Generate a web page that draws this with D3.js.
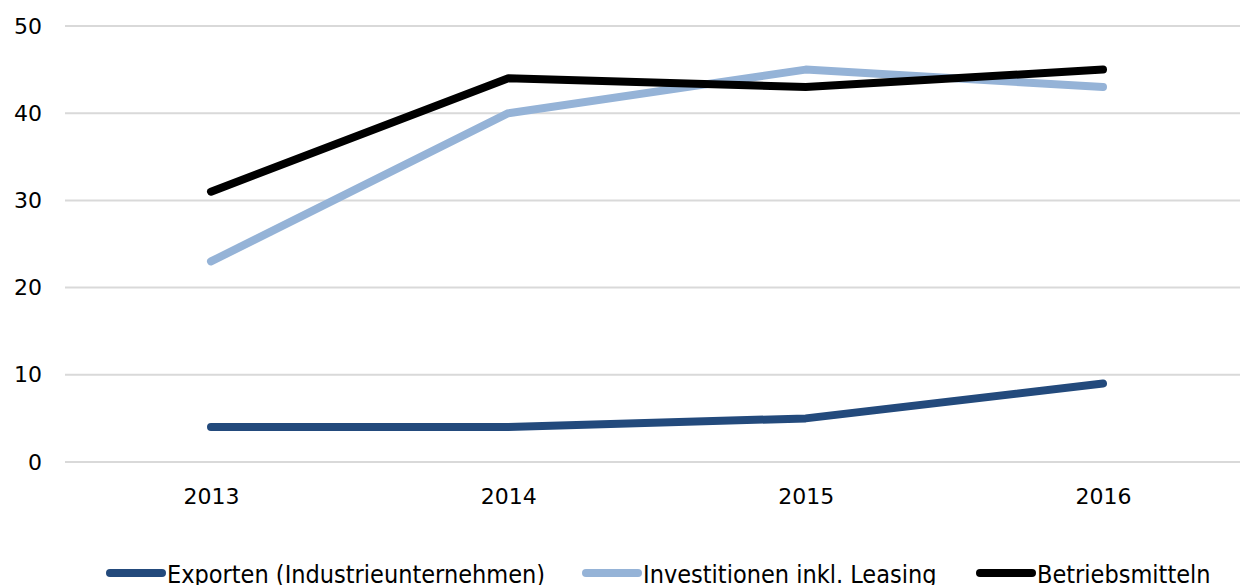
<!DOCTYPE html>
<html lang="en">
<head>
<meta charset="utf-8">
<title>Chart</title>
<script src="https://d3js.org/d3.v7.min.js"></script>
<style>
  body { margin: 0; background: #fff; }
  text { font-family: "DejaVu Sans", sans-serif; fill: #000; }
</style>
</head>
<body>
<script>
// data
var years = ["2013", "2014", "2015", "2016"];
var exporten = [4, 4, 5, 9];
var investitionen = [23, 40, 45, 43];
var betriebsmitteln = [31, 44, 43, 45];
var seriesNames = ["Exporten (Industrieunternehmen)", "Investitionen inkl. Leasing", "Betriebsmitteln"];
var seriesColors = ["#234a7c", "#95b3d7", "#000000"];
var yTicks = [0, 10, 20, 30, 40, 50];

var w = 1240, h = 585;
var margin = {top: 26, right: 0, bottom: 123, left: 62};

var svg = d3.select("body").append("svg")
  .attr("width", w).attr("height", h);

var x = d3.scalePoint()
  .domain(years)
  .range([211, 1103]);

var y = d3.scaleLinear()
  .domain([0, 50])
  .range([462, 26]);

// gridlines
svg.append("g").selectAll("line")
  .data(yTicks)
  .enter().append("line")
  .attr("x1", 65).attr("x2", w)
  .attr("y1", d => y(d)).attr("y2", d => y(d))
  .attr("stroke", "#d9d9d9")
  .attr("stroke-width", 2);

// y axis labels
var yAxis = svg.append("g")
  .attr("transform", "translate(42,0)")
  .call(d3.axisLeft(y).tickValues(yTicks).tickSize(0).tickPadding(0));
yAxis.select(".domain").remove();
yAxis.selectAll("text")
  .style("font-size", "22px")
  .attr("text-anchor", "end");

// x axis labels
var xAxis = svg.append("g")
  .attr("transform", "translate(0,488)")
  .call(d3.axisBottom(x).tickSize(0).tickPadding(0));
xAxis.select(".domain").remove();
xAxis.selectAll("text").style("font-size", "22px");

// lines
var allSeries = [exporten, investitionen, betriebsmitteln];
var line = d3.line()
  .x((d, i) => x(years[i]))
  .y(d => y(d));

svg.append("g").selectAll("path")
  .data(allSeries)
  .enter().append("path")
  .attr("d", d => line(d))
  .attr("fill", "none")
  .attr("stroke", (d, i) => seriesColors[i])
  .attr("stroke-width", 8)
  .attr("stroke-linecap", "round")
  .attr("stroke-linejoin", "round");

// legend
var legendX = [107, 583, 977];
var legend = svg.append("g").selectAll("g")
  .data(seriesNames)
  .enter().append("g")
  .attr("transform", (d, i) => "translate(" + legendX[i] + ",573)");

legend.append("line")
  .attr("x1", 3).attr("x2", 55)
  .attr("y1", 0).attr("y2", 0)
  .attr("stroke", (d, i) => seriesColors[i])
  .attr("stroke-width", 8)
  .attr("stroke-linecap", "round");

legend.append("text")
  .attr("x", 60)
  .attr("y", 10)
  .style("font-family", "'DejaVu Sans Condensed', 'DejaVu Sans', sans-serif")
  .style("font-size", "25px")
  .text(d => d);
</script>
</body>
</html>
